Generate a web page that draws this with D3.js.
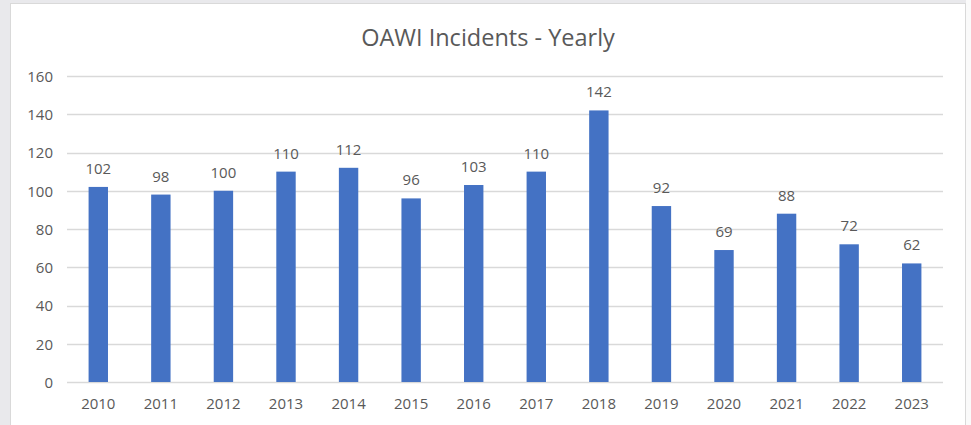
<!DOCTYPE html>
<html>
<head>
<meta charset="utf-8">
<script src="https://cdn.jsdelivr.net/npm/d3@7"></script>
<style>
  body { margin: 0; background: #ffffff; }
  svg { display: block; }
  text { font-family: "Open Sans", Lato, sans-serif; fill: #595959; }
</style>
</head>
<body>
<svg id="chart" width="971" height="425"></svg>
<script>
// Data
const years = ["2010", "2011", "2012", "2013", "2014", "2015", "2016",
               "2017", "2018", "2019", "2020", "2021", "2022", "2023"];
const incidents = [102, 98, 100, 110, 112, 96, 103, 110, 142, 92, 69, 88, 72, 62];
const yTicks = [0, 20, 40, 60, 80, 100, 120, 140, 160];

const svg = d3.select("#chart");

// page backdrop and chart frame
svg.append("rect").attr("width", 971).attr("height", 425).attr("fill", "#e9e9ec");
svg.append("rect").attr("x", 966).attr("width", 5).attr("height", 425).attr("fill", "#fafafa");
svg.append("rect")
  .attr("x", 10.5).attr("y", 3.5)
  .attr("width", 955).attr("height", 430)
  .attr("fill", "#ffffff")
  .attr("stroke", "#d9d9d9");

const margin = { left: 67, right: 28, top: 76, bottom: 43 };
const plotW = 971 - margin.left - margin.right;
const plotH = 425 - margin.top - margin.bottom;

const g = svg.append("g").attr("transform", `translate(${margin.left}, ${margin.top})`);

const x = d3.scaleBand().domain(years).range([0, plotW]).paddingInner(0.69).paddingOuter(0.345);
const y = d3.scaleLinear().domain([0, 160]).range([plotH, 0]);

// gridlines
g.append("g")
  .selectAll("line")
  .data(yTicks)
  .join("line")
  .attr("x1", 0)
  .attr("x2", plotW)
  .attr("y1", (d) => Math.round(y(d)) + 0.5)
  .attr("y2", (d) => Math.round(y(d)) + 0.5)
  .attr("stroke", "#d9d9d9")
  .attr("stroke-width", 1.5);

// y axis labels
const yAxis = g.append("g").call(d3.axisLeft(y).tickValues(yTicks).tickSize(0).tickPadding(14));
yAxis.select(".domain").remove();
yAxis.selectAll("text")
  .style("font-size", "15px")
  .attr("fill", "#595959")
  .attr("dy", "0.35em");

// x axis labels
const xAxis = g.append("g")
  .attr("transform", `translate(0, ${plotH})`)
  .call(d3.axisBottom(x).tickSize(0).tickPadding(16));
xAxis.select(".domain").remove();
xAxis.selectAll("text")
  .style("font-size", "15px")
  .attr("fill", "#595959");

// bars
g.selectAll(".bar")
  .data(incidents)
  .join("rect")
  .attr("class", "bar")
  .attr("x", (d, i) => x(years[i]))
  .attr("y", (d) => y(d))
  .attr("width", x.bandwidth())
  .attr("height", (d) => plotH - y(d))
  .attr("fill", "#4472c4");

// value labels
g.selectAll(".val")
  .data(incidents)
  .join("text")
  .attr("class", "val")
  .attr("x", (d, i) => x(years[i]) + x.bandwidth() / 2)
  .attr("y", (d) => y(d) - 13)
  .attr("text-anchor", "middle")
  .style("font-size", "15px")
  .text((d) => d);

// title
svg.append("text")
  .attr("x", 488)
  .attr("y", 46)
  .attr("text-anchor", "middle")
  .style("font-size", "23.5px")
  .text("OAWI Incidents - Yearly");
</script>
</body>
</html>
